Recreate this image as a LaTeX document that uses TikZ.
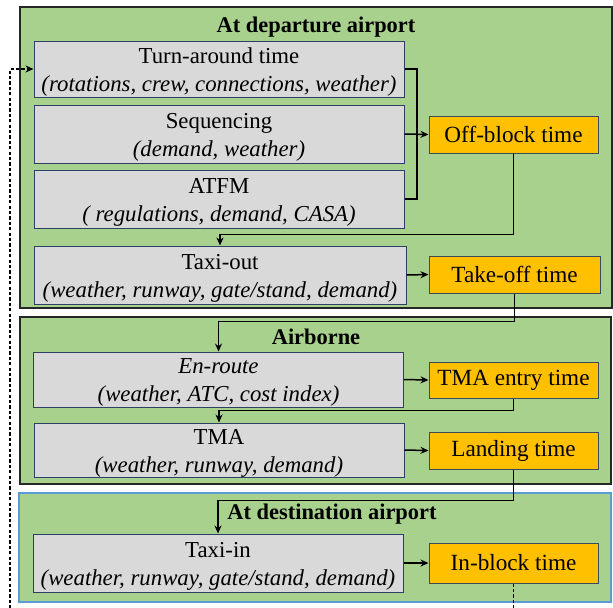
\documentclass[tikz,border=0pt]{standalone}
\usepackage{fontspec}
\setmainfont{Liberation Serif}
\usepackage{xcolor}
\usetikzlibrary{arrows.meta,positioning,calc}
\definecolor{zonegreen}{HTML}{A9D18E}
\definecolor{zoneline}{HTML}{262626}
\definecolor{zoneblue}{HTML}{5B9BD5}
\definecolor{causebg}{HTML}{D9D9D9}
\definecolor{causeline}{HTML}{2E3F66}
\definecolor{eventbg}{HTML}{FFC000}
\definecolor{eventline}{HTML}{3A4B5E}
\newcommand{\causetext}[2]{\rule{0pt}{10.5pt}#1\\\textit{#2}}
\tikzset{
  zone/.style={draw=zoneline,fill=zonegreen,line width=0.6pt,inner sep=0pt},
  zonetitle/.style={font=\fontsize{11.2}{13.5}\selectfont\bfseries,inner sep=1pt},
  cause/.style={draw=causeline,fill=causebg,line width=0.5pt,
                minimum width=185pt,minimum height=28pt,
                align=center,font=\fontsize{11.4}{14}\selectfont,
                inner xsep=1pt,inner ysep=0pt},
  event/.style={draw=eventline,fill=eventbg,line width=0.5pt,
                minimum width=84.5pt,minimum height=18.5pt,
                align=center,font=\fontsize{11.6}{14}\selectfont,inner sep=1pt},
  flowarr/.style={-{Stealth[length=4pt,width=3.5pt]},line width=0.75pt},
  looparr/.style={-{Stealth[length=4pt,width=3.5pt]},line width=0.75pt,
                  dash pattern=on 1.6pt off 1.1pt}
}

\begin{document}
\begin{tikzpicture}[x=0.5pt,y=-0.5pt]
  \useasboundingbox (0,0) rectangle (613,607);
  % zones
  \node[zone,minimum width=296pt,minimum height=150.5pt] (dep) at (316,157.5) {};
  \node[zone,minimum width=295.5pt,minimum height=83.5pt] (air) at (315.5,400.5) {};
  \node[zone,draw=zoneblue,minimum width=296pt,minimum height=54.5pt] (dest) at (315,547.5) {};
  \node[zonetitle] (deptitle) at (316,27) {At departure airport};
  \node[zonetitle] (airtitle) at (316,337) {Airborne};
  \node[zonetitle] (desttitle) at (332,514) {At destination airport};
  % departure
  \node[cause] (turn) at (219,69) {\causetext{Turn-around time}{(rotations, crew, connections, weather)}};
  \node[cause,minimum height=29pt] (seq) at (219,134) {\causetext{Sequencing}{(demand, weather)}};
  \node[cause,minimum height=29pt] (atfm) at (219,199) {\causetext{ATFM}{( regulations, demand, CASA)}};
  \node[cause,minimum width=186pt,minimum height=29pt] (taxiout) at (220,275) {\causetext{Taxi-out}{(weather, runway, gate/stand, demand)}};
  \node[event] (offblock) at (513.5,134.5) {Off-block time};
  \node[event,minimum width=85.5pt] (takeoff) at (514.5,274.5) {Take-off time};
  % airborne
  \node[cause,minimum height=27.5pt] (enroute) at (218.5,379.5) {\causetext{\textit{En-route}}{(weather, ATC, cost index)}};
  \node[cause,minimum height=27pt] (tma) at (219,450) {\causetext{TMA}{(weather, runway, demand)}};
  \node[event,minimum height=18pt] (tmaentry) at (513.5,380) {TMA entry time};
  \node[event] (landing) at (513.5,450.5) {Landing time};
  % destination
  \node[cause,minimum height=29pt] (taxiin) at (218,563) {\causetext{Taxi-in}{(weather, runway, gate/stand, demand)}};
  \node[event,minimum height=20pt] (inblock) at (513.5,563) {In-block time};
  % connectors
  \coordinate (join) at (417,134);
  \draw[line width=0.75pt] (turn.east) -| (join);
  \draw[line width=0.75pt] (atfm.east) -| (join);
  \draw[flowarr] (seq.east) -- (offblock.west);
  \draw[flowarr] (offblock.south) |- ($(taxiout.north)+(0,-11)$) -- (taxiout.north);
  \draw[flowarr] (taxiout.east) -- (takeoff.west);
  \draw[flowarr] (takeoff.south) |- ($(enroute.north)+(0,-30)$) -- (enroute.north);
  \draw[flowarr] (enroute.east) -- (tmaentry.west);
  \draw[flowarr] (tmaentry.south) |- ($(tma.north)+(0,-12)$) -- (tma.north);
  \draw[flowarr] (tma.east) -- (landing.west);
  \draw[flowarr] (landing.south) |- ($(taxiin.north)+(0,-33)$) -- (taxiin.north);
  \draw[flowarr] (taxiin.east) -- (inblock.west);
  \coordinate (loop) at (10,625);
  \draw[looparr] (inblock.south) |- (loop) |- (turn.west);
\end{tikzpicture}
\end{document}
